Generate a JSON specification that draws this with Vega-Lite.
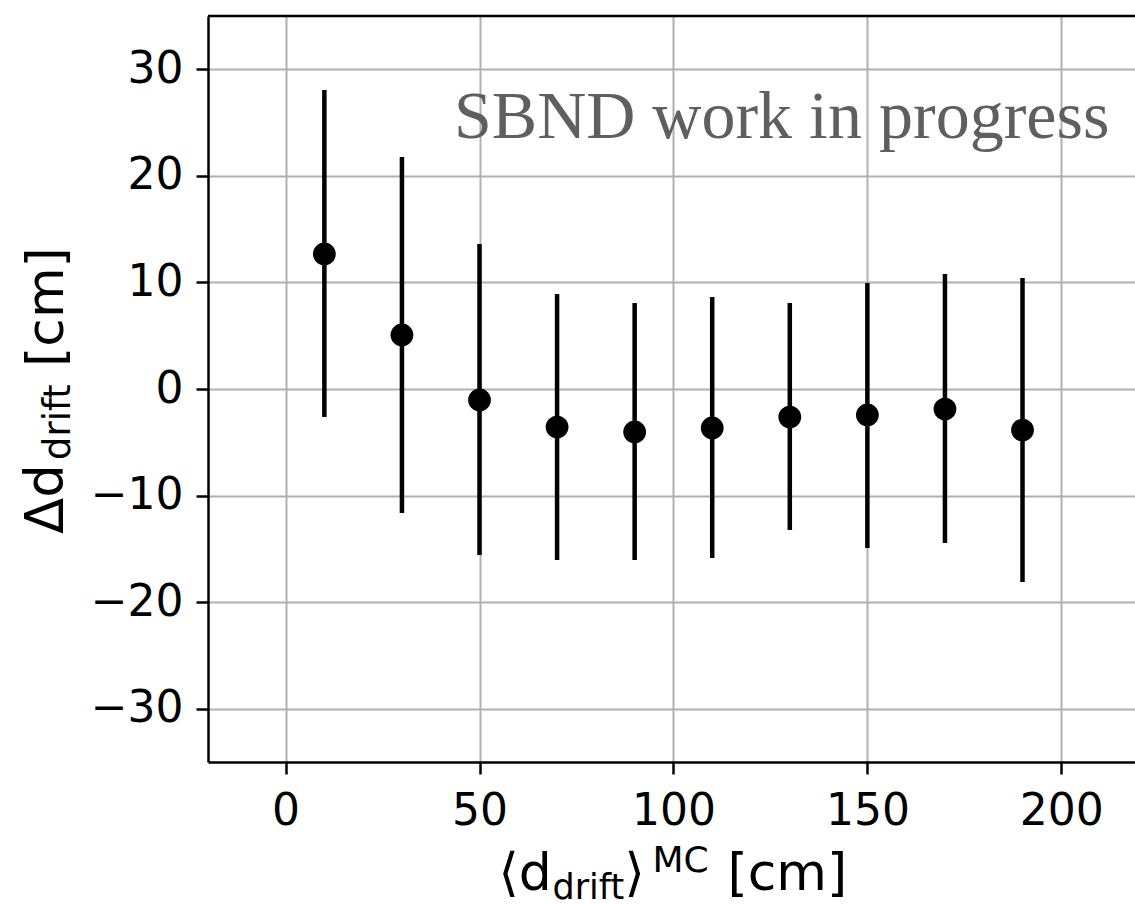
{
  "$schema": "https://vega.github.io/schema/vega-lite/v6.json",
  "autosize": {"type": "none"},
  "padding": {"left": 208, "top": 16, "right": 0, "bottom": 142},
  "width": 927,
  "height": 746,
  "background": "white",
  "config": {
    "view": {"stroke": null},
    "axis": {
      "labelFont": "DejaVu Sans",
      "labelFontSize": 44,
      "labelColor": "black",
      "tickSize": 12,
      "tickWidth": 2.5,
      "tickColor": "black",
      "domainColor": "black",
      "domainWidth": 2.5,
      "gridColor": "#b0b0b0",
      "gridWidth": 2,
      "gridOpacity": 1,
      "labelFlush": false,
      "labelOverlap": false,
      "title": null
    }
  },
  "datasets": {
    "points": [
      {"x": 10, "val": 12.67, "lo": -2.63, "hi": 28.06},
      {"x": 30, "val": 5.07, "lo": -11.64, "hi": 21.77},
      {"x": 50, "val": -1.03, "lo": -15.58, "hi": 13.61},
      {"x": 70, "val": -3.57, "lo": -16.05, "hi": 8.91},
      {"x": 90, "val": -4.03, "lo": -16.05, "hi": 8.07},
      {"x": 110, "val": -3.66, "lo": -15.86, "hi": 8.63},
      {"x": 130, "val": -2.63, "lo": -13.23, "hi": 8.07},
      {"x": 150, "val": -2.44, "lo": -14.92, "hi": 9.95},
      {"x": 170, "val": -1.88, "lo": -14.45, "hi": 10.79},
      {"x": 190, "val": -3.85, "lo": -18.11, "hi": 10.42}
    ]
  },
  "layer": [
    {
      "data": {"name": "points"},
      "mark": {"type": "rule", "color": "black", "strokeWidth": 4.5},
      "encoding": {
        "x": {"field": "x", "type": "quantitative",
              "scale": {"domain": [-20, 219], "nice": false, "zero": false},
              "axis": {"values": [0, 50, 100, 150, 200], "labelPadding": 15, "grid": true}},
        "y": {"field": "lo", "type": "quantitative",
              "scale": {"domain": [-35, 35], "nice": false, "zero": false},
              "axis": {"values": [-30, -20, -10, 0, 10, 20, 30], "labelPadding": 13, "grid": true}},
        "y2": {"field": "hi"}
      }
    },
    {
      "data": {"name": "points"},
      "mark": {"type": "point", "filled": true, "size": 520, "color": "black", "opacity": 1},
      "encoding": {
        "x": {"field": "x", "type": "quantitative"},
        "y": {"field": "val", "type": "quantitative"}
      }
    },
    {
      "data": {"values": [{}]},
      "mark": {"type": "rule", "color": "black", "strokeWidth": 2.5},
      "encoding": {"y": {"datum": 35}}
    },
    {
      "data": {"values": [{"t": "SBND work in progress"}]},
      "mark": {"type": "text", "font": "Liberation Serif", "fontSize": 68, "color": "#5f5f5f", "align": "right", "baseline": "alphabetic"},
      "encoding": {"x": {"datum": 212.4}, "y": {"datum": 23.55}, "text": {"field": "t"}}
    },
    {
      "data": {"values": [{"t": "⟨d"}]},
      "mark": {"type": "text", "font": "DejaVu Sans", "fontSize": 52, "color": "black", "align": "left", "baseline": "alphabetic", "dx": -175, "dy": 128},
      "encoding": {"x": {"datum": 100}, "y": {"datum": -35}, "text": {"field": "t"}}
    },
    {
      "data": {"values": [{"t": "drift"}]},
      "mark": {"type": "text", "font": "DejaVu Sans", "fontSize": 35, "color": "black", "align": "left", "baseline": "alphabetic", "dx": -121, "dy": 137},
      "encoding": {"x": {"datum": 100}, "y": {"datum": -35}, "text": {"field": "t"}}
    },
    {
      "data": {"values": [{"t": "⟩"}]},
      "mark": {"type": "text", "font": "DejaVu Sans", "fontSize": 52, "color": "black", "align": "left", "baseline": "alphabetic", "dx": -49, "dy": 128},
      "encoding": {"x": {"datum": 100}, "y": {"datum": -35}, "text": {"field": "t"}}
    },
    {
      "data": {"values": [{"t": "MC"}]},
      "mark": {"type": "text", "font": "DejaVu Sans", "fontSize": 36, "color": "black", "align": "left", "baseline": "alphabetic", "dx": -21, "dy": 110},
      "encoding": {"x": {"datum": 100}, "y": {"datum": -35}, "text": {"field": "t"}}
    },
    {
      "data": {"values": [{"t": "[cm]"}]},
      "mark": {"type": "text", "font": "DejaVu Sans", "fontSize": 52, "color": "black", "align": "left", "baseline": "alphabetic", "dx": 54, "dy": 128},
      "encoding": {"x": {"datum": 100}, "y": {"datum": -35}, "text": {"field": "t"}}
    },
    {
      "data": {"values": [{"t": "Δd"}]},
      "mark": {"type": "text", "font": "DejaVu Sans", "fontSize": 53, "color": "black", "align": "left", "baseline": "alphabetic", "angle": 270, "dx": -145, "dy": -145},
      "encoding": {"x": {"datum": -20}, "y": {"datum": 0}, "text": {"field": "t"}}
    },
    {
      "data": {"values": [{"t": "drift"}]},
      "mark": {"type": "text", "font": "DejaVu Sans", "fontSize": 37, "color": "black", "align": "left", "baseline": "alphabetic", "angle": 270, "dx": -71, "dy": -138},
      "encoding": {"x": {"datum": -20}, "y": {"datum": 0}, "text": {"field": "t"}}
    },
    {
      "data": {"values": [{"t": "[cm]"}]},
      "mark": {"type": "text", "font": "DejaVu Sans", "fontSize": 52, "color": "black", "align": "left", "baseline": "alphabetic", "angle": 270, "dx": 22, "dy": -145},
      "encoding": {"x": {"datum": -20}, "y": {"datum": 0}, "text": {"field": "t"}}
    }
  ]
}
